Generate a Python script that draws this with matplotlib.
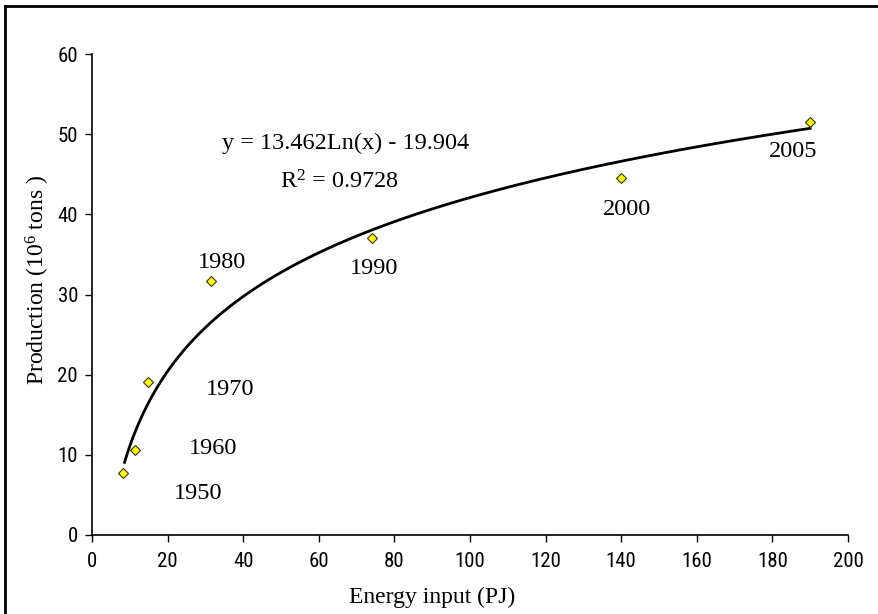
import numpy as np
import matplotlib
matplotlib.use("Agg")
import matplotlib.pyplot as plt
from matplotlib.lines import Line2D

energy = [8.3, 11.3, 14.8, 31.5, 74.0, 140.0, 190.0]
production = [7.7, 10.6, 19.1, 31.7, 37.0, 44.5, 51.5]
years = ["1950", "1960", "1970", "1980", "1990", "2000", "2005"]
label_x = [28.0, 32.0, 36.5, 34.5, 74.5, 141.5, 185.5]
label_y = [5.2, 10.8, 18.1, 34.0, 33.3, 40.6, 47.9]
coef_a, coef_b = 13.462, -19.904
xticks = list(range(0, 201, 20))
yticks = list(range(0, 61, 10))

plt.rcParams['mathtext.fontset'] = 'custom'
plt.rcParams['mathtext.rm'] = 'Liberation Serif'
plt.rcParams['mathtext.it'] = 'Liberation Serif:italic'

fig = plt.figure(figsize=(8.79, 6.14), dpi=100)
ax = fig.add_axes([92/879, 1-535/614, (848-92)/879, (535-54)/614])

xs = np.linspace(8.6, 190, 300)
ax.plot(xs, coef_a*np.log(xs) + coef_b, color='black', lw=2.0, zorder=2)
ax.plot(energy, production, linestyle='none', marker='D', markersize=5.5,
        markerfacecolor='#ffff00', markeredgecolor='#333300', markeredgewidth=0.8, zorder=3)

serif = ['Liberation Serif', 'DejaVu Serif']
for x, y, t in zip(label_x, label_y, years):
    ax.text(x, y, t, ha='center', va='center', fontsize=17.5, family=serif)

ax.text(67.2, 48.9, 'y = 13.462Ln(x) - 19.904', ha='center', va='center', fontsize=17.5, family=serif)
ax.text(65.3, 44.0, r'R$^2$ = 0.9728', ha='center', va='center', fontsize=17.5, family=serif)

ax.set_xlim(0, 200)
ax.set_ylim(0, 60)
ax.set_xticks(xticks)
ax.set_yticks(yticks)
narrow = ['Liberation Sans Narrow', 'DejaVu Sans Condensed', 'Roboto Condensed', 'Open Sans Condensed', 'Liberation Sans']
for lab in ax.get_xticklabels() + ax.get_yticklabels():
    lab.set_family(narrow)
    lab.set_fontsize(15)
ax.tick_params(direction='out', length=5, width=1, color='black', pad=7)
ax.tick_params(axis='y', pad=5)
for s in ['top', 'right']:
    ax.spines[s].set_visible(False)
for s in ['left', 'bottom']:
    ax.spines[s].set_linewidth(1.2)

ax.set_xlabel('Energy input (PJ)', fontsize=17, family=serif)
ax.set_ylabel(r'Production (10$^6$ tons )', fontsize=17, family=serif)
ax.xaxis.set_label_coords((432-92)/756, (535-597)/481)
ax.xaxis.label.set_va('center')
ax.yaxis.set_label_coords((38-92)/756, (535-280)/481)
ax.yaxis.label.set_va('center')

fig.add_artist(Line2D([5/879, 5/879], [0, 1-6/614], transform=fig.transFigure, color='black', lw=2))
fig.add_artist(Line2D([5/879, 1], [1-6/614, 1-6/614], transform=fig.transFigure, color='black', lw=2))

fig.savefig('out.png', dpi=100)
